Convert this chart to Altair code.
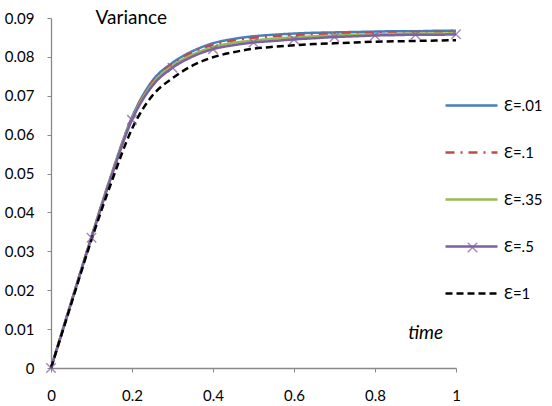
import altair as alt
import pandas as pd

# ---- data ----
times = [0.0, 0.05, 0.1, 0.15, 0.2, 0.25, 0.3, 0.35, 0.4, 0.45, 0.5,
         0.55, 0.6, 0.65, 0.7, 0.75, 0.8, 0.85, 0.9, 0.95, 1.0]

eps_001 = [0.0, 0.0170, 0.0338, 0.0500, 0.0645, 0.0738, 0.0785, 0.0815, 0.0835, 0.0846, 0.0853,
           0.0857, 0.0860, 0.0862, 0.0863, 0.0864, 0.0865, 0.0866, 0.0866, 0.0867, 0.0867]
eps_01 = [0.0, 0.0169, 0.0337, 0.0499, 0.0643, 0.0735, 0.0782, 0.0812, 0.0831, 0.0842, 0.0849,
          0.0853, 0.0856, 0.0858, 0.0860, 0.0861, 0.0862, 0.0863, 0.0864, 0.0864, 0.0865]
eps_035 = [0.0, 0.0169, 0.0336, 0.0497, 0.0641, 0.0730, 0.0777, 0.0806, 0.0825, 0.0836, 0.0842,
           0.0847, 0.0850, 0.0853, 0.0855, 0.0857, 0.0858, 0.0859, 0.0860, 0.0860, 0.0861]
eps_05 = [0.0, 0.0168, 0.0335, 0.0495, 0.0638, 0.0725, 0.0772, 0.0801, 0.0820, 0.0830, 0.0837,
          0.0841, 0.0845, 0.0848, 0.0851, 0.0853, 0.0855, 0.0856, 0.0857, 0.0857, 0.0858]
eps_1 = [0.0, 0.0165, 0.0330, 0.0480, 0.0615, 0.0700, 0.0745, 0.0778, 0.0799, 0.0812, 0.0821,
         0.0826, 0.0830, 0.0833, 0.0835, 0.0837, 0.0839, 0.0840, 0.0841, 0.0842, 0.0843]

series_names = ["Ɛ=.01", "Ɛ=.1", "Ɛ=.35", "Ɛ=.5", "Ɛ=1"]
series_values = [eps_001, eps_01, eps_035, eps_05, eps_1]
series_colors = ["#4A7EBB", "#BE4B48", "#98B954", "#7D60A0", "#000000"]
series_dashes = [[1, 0], [9, 6, 2, 6], [1, 0], [1, 0], [7, 4]]
series_widths = [2.5, 2.5, 2.5, 2.5, 3.2]
marker_series = "Ɛ=.5"

y_ticks = [0, 0.01, 0.02, 0.03, 0.04, 0.05, 0.06, 0.07, 0.08, 0.09]
x_ticks = [0, 0.2, 0.4, 0.6, 0.8, 1.0]

rows = []
for name, vals in zip(series_names, series_values):
    for i, (t, v) in enumerate(zip(times, vals)):
        rows.append({"t": t, "v": v, "series": name, "idx": i})
df = pd.DataFrame(rows)

marker_df = df[(df["series"] == marker_series) & (df["idx"] % 2 == 0)].copy()
marker_df["mk"] = "x"

FONT = "Lato, Noto Sans"
X_PATH = "M-1,-1L1,1M-1,1L1,-1"

x_enc = alt.X("t:Q", scale=alt.Scale(domain=[0, 1], nice=False),
              axis=alt.Axis(values=x_ticks, format="~g", title=None, grid=False,
                            tickSize=4, labelPadding=16, labelFlush=False,
                            labelOverlap=False))
y_enc = alt.Y("v:Q", scale=alt.Scale(domain=[0, 0.09], nice=False),
              axis=alt.Axis(values=y_ticks, format=".2~f", title=None, grid=False,
                            tickSize=4, labelPadding=13, labelOverlap=False))


def series_legend():
    return alt.Legend(title=None, orient="none", legendX=393, legendY=64,
                      symbolType="stroke", symbolSize=2704, symbolStrokeWidth=2.5,
                      clipHeight=47, rowPadding=0, labelOffset=5, labelFont=FONT,
                      labelFontSize=15, labelColor="#000000", padding=0)


lines = alt.Chart(df).mark_line(interpolate="monotone").encode(
    x=x_enc,
    y=y_enc,
    color=alt.Color("series:N", sort=series_names,
                    scale=alt.Scale(domain=series_names, range=series_colors),
                    legend=series_legend()),
    strokeDash=alt.StrokeDash("series:N", sort=series_names,
                              scale=alt.Scale(domain=series_names, range=series_dashes),
                              legend=series_legend()),
    strokeWidth=alt.StrokeWidth("series:N", sort=series_names,
                                scale=alt.Scale(domain=series_names, range=series_widths),
                                legend=None),
    order=alt.Order("t:Q"),
)

markers = alt.Chart(marker_df).mark_point(
    size=90, filled=False, color="#7D60A0", strokeWidth=1.5,
).encode(
    x=x_enc, y=y_enc,
    shape=alt.Shape("mk:N", scale=alt.Scale(domain=["x"], range=[X_PATH]),
                    legend=alt.Legend(title=None, orient="none", legendX=416, legendY=224,
                                      labelExpr="''", labelFontSize=1, labelOffset=0,
                                      symbolSize=90, symbolStrokeWidth=1.5,
                                      symbolStrokeColor="#7D60A0",
                                      symbolFillColor="transparent", padding=0)),
)

title_txt = alt.Chart(pd.DataFrame({"t": [0.11], "v": [0.09], "label": ["Variance"]})).mark_text(
    align="left", baseline="middle", font=FONT, fontSize=19, color="#000000"
).encode(x=x_enc, y=y_enc, text="label:N")

time_txt = alt.Chart(pd.DataFrame({"t": [0.925], "v": [0.0091], "label": ["time"]})).mark_text(
    align="center", baseline="middle", font=FONT, fontSize=19, fontStyle="italic",
    color="#000000"
).encode(x=x_enc, y=y_enc, text="label:N")

chart = alt.layer(lines, markers, title_txt, time_txt).properties(
    width=405, height=350,
    padding={"left": 51, "top": 18, "right": 96, "bottom": 38},
    autosize=alt.AutoSizeParams(type="none"),
    background="#ffffff",
).configure_view(stroke=None).configure_axis(
    domainColor="#898989", tickColor="#898989", labelColor="#000000",
    labelFont=FONT, labelFontSize=15, domainWidth=1.3, labelOverlap=False,
)

chart.save("out.html", embed_options={"renderer": "svg", "actions": False})
